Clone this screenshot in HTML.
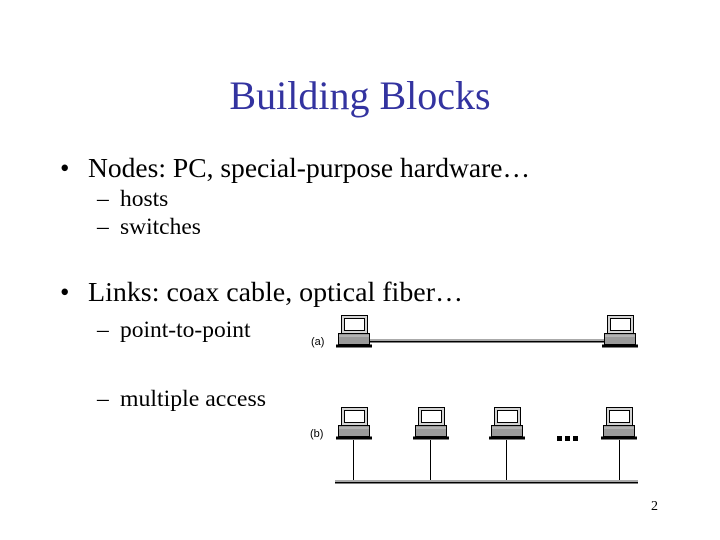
<!DOCTYPE html>
<html><head><meta charset="utf-8"><style>
body{margin:0;width:720px;height:540px;background:#fff;overflow:hidden;position:relative;font-family:"Liberation Serif",serif}
</style></head><body>
<svg width="720" height="540" style="position:absolute;left:0;top:0" font-family="Liberation Serif, serif">
<text x="360" y="109" text-anchor="middle" font-size="40" fill="#3333a0">Building Blocks</text>
<text x="60" y="177" font-size="27">•</text>
<text x="88" y="177" font-size="27" textLength="442" lengthAdjust="spacingAndGlyphs">Nodes: PC, special-purpose hardware…</text>
<text x="97" y="206" font-size="23.5">–</text><text x="120" y="206" font-size="23.5">hosts</text>
<text x="97" y="234" font-size="23.5">–</text><text x="120" y="234" font-size="23.5">switches</text>
<text x="60" y="301" font-size="27">•</text>
<text x="88" y="301" font-size="27" textLength="375" lengthAdjust="spacingAndGlyphs">Links: coax cable, optical fiber…</text>
<text x="97" y="337" font-size="23.5">–</text><text x="120" y="337" font-size="23.5">point-to-point</text>
<text x="97" y="406" font-size="23.5">–</text><text x="120" y="406" font-size="23.5" textLength="146" lengthAdjust="spacingAndGlyphs">multiple access</text>
<text x="651" y="510" font-size="14">2</text>
<defs>
<g id="pc">
<rect x="5.5" y="0.5" width="26" height="18" fill="#d4d4d4" stroke="#000"/>
<rect x="8.5" y="3.5" width="20" height="12" fill="#fff" stroke="#000"/>
<rect x="2.5" y="18.5" width="31" height="11" fill="#9a9a9a" stroke="#000"/>
<line x1="3" y1="21" x2="33" y2="21" stroke="#ccc"/>
<rect x="0" y="29.5" width="36" height="3" fill="#000"/>
</g>
</defs>
<text x="311" y="345" font-family="Liberation Sans" font-size="11">(a)</text>
<text x="310" y="437" font-family="Liberation Sans" font-size="11">(b)</text>
<rect x="370" y="339" width="234" height="2" fill="#aaa"/>
<rect x="370" y="341" width="234" height="1.5" fill="#000"/>
<use href="#pc" x="336" y="315"/>
<use href="#pc" x="602" y="315"/>
<use href="#pc" x="336" y="407"/>
<use href="#pc" x="413" y="407"/>
<use href="#pc" x="489" y="407"/>
<use href="#pc" x="601" y="407"/>
<g stroke="#000" stroke-width="1">
<line x1="353.5" y1="440" x2="353.5" y2="481"/>
<line x1="430.5" y1="440" x2="430.5" y2="481"/>
<line x1="506.5" y1="440" x2="506.5" y2="481"/>
<line x1="619.5" y1="440" x2="619.5" y2="481"/>
</g>
<rect x="335" y="480" width="303" height="2" fill="#aaa"/>
<rect x="335" y="482" width="303" height="1.5" fill="#000"/>
<rect x="557" y="436" width="5" height="5" fill="#000"/>
<rect x="565" y="436" width="5" height="5" fill="#000"/>
<rect x="573" y="436" width="5" height="5" fill="#000"/>
</svg>
</body></html>
